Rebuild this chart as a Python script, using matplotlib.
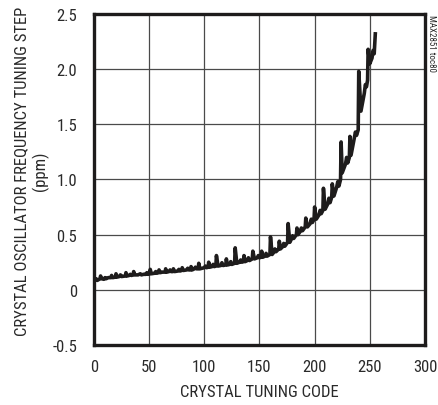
import matplotlib
matplotlib.use("Agg")
import matplotlib.pyplot as plt
from matplotlib import font_manager

# tuning code vs frequency step (ppm)
codes = [0, 2, 3, 5.5, 6, 7, 9, 10, 11, 13,
         15.5, 16, 17, 19.5, 20, 21, 23, 24, 25, 28.5,
         29, 30, 32, 33, 34, 35.5, 36, 37, 40, 42,
         43, 45, 47, 48, 49, 50.5, 51, 52, 55, 56,
         57, 58.5, 59, 60, 62, 64.5, 65, 66, 68, 69,
         70, 71.5, 72, 73, 76, 77, 78, 79.5, 80, 81,
         84, 85, 86, 87.5, 88, 89, 91, 92, 93, 94.5,
         95, 96, 100, 101, 102, 103.5, 104, 105, 107, 108,
         109, 110.5, 111, 112.5, 115, 116, 117, 119.5, 120, 121,
         123, 124, 125, 127.5, 128, 129.5, 132, 133, 134, 135.5,
         136, 137, 139, 140, 141, 143.5, 144, 145.5, 148, 149,
         150, 151.5, 152, 153, 155, 156, 157, 159.5, 160, 161.5,
         163, 164, 165, 167.5, 168, 169, 171, 172, 173, 175.5,
         176, 177.5, 179, 180, 181, 183.5, 184, 185, 187, 188,
         189, 191.5, 192, 193.5, 196, 197, 198, 199.5, 200, 201.5,
         204, 205, 206, 207.5, 208, 209.5, 212, 213, 214, 215.5,
         216, 217.5, 220, 221, 222, 223.5, 224, 225, 228, 229,
         230, 231.5, 232, 233, 236, 237, 238, 239.5, 240, 242,
         245, 246, 247, 248, 248.5, 250, 252, 253, 254, 255]
step_ppm = [0.08, 0.10, 0.085, 0.10, 0.125, 0.10, 0.095, 0.11, 0.10, 0.11,
            0.11, 0.13, 0.11, 0.115, 0.145, 0.115, 0.12, 0.135, 0.12, 0.125,
            0.155, 0.125, 0.13, 0.14, 0.13, 0.135, 0.165, 0.135, 0.135, 0.145,
            0.135, 0.14, 0.14, 0.155, 0.14, 0.145, 0.185, 0.145, 0.15, 0.165,
            0.15, 0.155, 0.18, 0.155, 0.16, 0.16, 0.19, 0.16, 0.165, 0.18,
            0.165, 0.165, 0.19, 0.165, 0.17, 0.185, 0.17, 0.175, 0.20, 0.175,
            0.18, 0.195, 0.18, 0.18, 0.21, 0.18, 0.19, 0.205, 0.19, 0.19,
            0.24, 0.19, 0.20, 0.215, 0.20, 0.205, 0.25, 0.205, 0.21, 0.23,
            0.21, 0.215, 0.31, 0.215, 0.22, 0.245, 0.22, 0.225, 0.28, 0.225,
            0.23, 0.255, 0.23, 0.24, 0.38, 0.24, 0.25, 0.27, 0.25, 0.255,
            0.31, 0.255, 0.265, 0.29, 0.265, 0.28, 0.35, 0.28, 0.29, 0.31,
            0.29, 0.295, 0.35, 0.295, 0.305, 0.33, 0.305, 0.32, 0.48, 0.32,
            0.34, 0.37, 0.345, 0.37, 0.44, 0.37, 0.39, 0.42, 0.395, 0.43,
            0.60, 0.43, 0.46, 0.49, 0.465, 0.50, 0.56, 0.50, 0.53, 0.56,
            0.535, 0.57, 0.65, 0.57, 0.60, 0.64, 0.61, 0.64, 0.75, 0.64,
            0.68, 0.72, 0.69, 0.72, 0.92, 0.73, 0.78, 0.83, 0.79, 0.84,
            0.96, 0.85, 0.93, 0.98, 0.94, 1.00, 1.34, 1.06, 1.14, 1.20,
            1.15, 1.20, 1.39, 1.22, 1.38, 1.43, 1.40, 1.45, 1.98, 1.62,
            1.78, 1.86, 1.84, 1.90, 2.18, 2.05, 2.10, 2.17, 2.14, 2.32]

x_ticks = [0, 50, 100, 150, 200, 250, 300]
y_ticks = [-0.5, 0, 0.5, 1.0, 1.5, 2.0, 2.5]
y_tick_labels = ["-0.5", "0", "0.5", "1.0", "1.5", "2.0", "2.5"]

names = {f.name for f in font_manager.fontManager.ttflist}
font = "DejaVu Sans"
for cand in ["Roboto Condensed", "Archivo Narrow", "Barlow Semi Condensed", "Asap Condensed"]:
    if cand in names:
        font = cand
        break
plt.rcParams["font.family"] = [font, "DejaVu Sans"]
txt = "#2a2a2a"

fig = plt.figure(figsize=(4.39, 4.06), dpi=100)
ax = fig.add_axes([0.214, 0.148, 0.754, 0.815])

ax.plot(codes, step_ppm, color="#1e1c1c", lw=2.6, solid_joinstyle="round")

ax.set_xlim(0, 300)
ax.set_ylim(-0.5, 2.5)
ax.set_xticks(x_ticks)
ax.set_yticks(y_ticks)
ax.set_yticklabels(y_tick_labels)
ax.grid(True, color="#4a4a4a", lw=0.9)
ax.set_axisbelow(True)
ax.tick_params(length=0, labelsize=12, colors=txt)
ax.tick_params(axis="x", pad=10)
ax.tick_params(axis="y", pad=12)
for s in ax.spines.values():
    s.set_linewidth(2.4)
    s.set_color("#1e1c1c")

ax.set_xlabel("CRYSTAL TUNING CODE", fontsize=12, color=txt, labelpad=7)
fig.text(0.072, 0.578, "CRYSTAL OSCILLATOR FREQUENCY TUNING STEP\n(ppm)",
         rotation=90, ha="center", va="center", multialignment="center",
         fontsize=12, color=txt, linespacing=1.15)
fig.text(0.984, 0.963, "MAX2851 toc80", rotation=270, ha="center", va="top",
         fontsize=6.5, color=txt)

fig.savefig("out.png", dpi=100)
